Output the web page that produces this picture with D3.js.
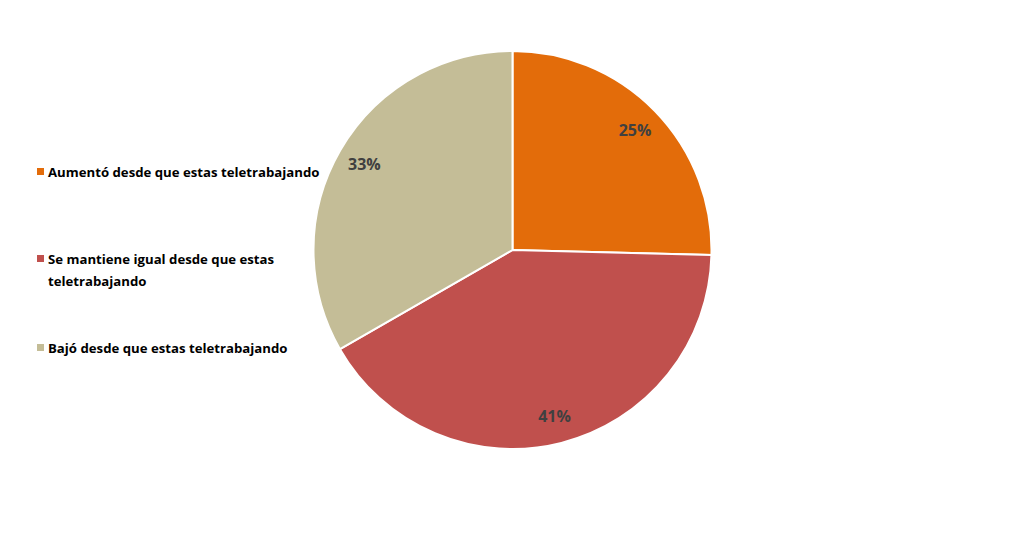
<!DOCTYPE html>
<html>
<head>
<meta charset="utf-8">
<script src="https://cdn.jsdelivr.net/npm/d3@7"></script>
<style>
  body { margin: 0; background: #fff; }
  svg text { font-family: "Open Sans", "Liberation Sans", sans-serif; font-weight: bold; }
</style>
</head>
<body>
<div id="chart"></div>
<script>
  // data
  var categories = [
    "Aumentó desde que estas teletrabajando",
    "Se mantiene igual desde que estas teletrabajando",
    "Bajó desde que estas teletrabajando"
  ];
  var values = [25.4, 41.3, 33.3];
  var pctLabels = ["25%", "41%", "33%"];
  var legendLines = [
    ["Aumentó desde que estas teletrabajando"],
    ["Se mantiene igual desde que estas", "teletrabajando"],
    ["Bajó desde que estas teletrabajando"]
  ];
  var palette = ["#e36c0a", "#c0504d", "#c4bd97"];

  var w = 1024, h = 542,
    cx = 512.5, cy = 250, radius = 199;

  var svg = d3.select("#chart").append("svg")
    .attr("width", w)
    .attr("height", h);

  var color = d3.scaleOrdinal().domain(categories).range(palette);

  var pie = d3.pie().sort(null).value(function(d) { return d.value; });
  var arcs = pie(categories.map(function(c, i) {
    return { name: c, value: values[i], label: pctLabels[i] };
  }));

  var arc = d3.arc().innerRadius(0).outerRadius(radius);
  var labelArc = d3.arc().innerRadius(radius * 0.86).outerRadius(radius * 0.86);

  var g = svg.append("g").attr("transform", "translate(" + cx + "," + cy + ")");

  g.selectAll(".slice")
    .data(arcs)
    .enter().append("path")
    .attr("class", "slice")
    .attr("d", arc)
    .attr("fill", function(d) { return color(d.data.name); })
    .style("stroke", "#fff")
    .style("stroke-width", 2);

  g.selectAll(".pct")
    .data(arcs)
    .enter().append("text")
    .attr("class", "pct")
    .attr("transform", function(d) { return "translate(" + labelArc.centroid(d) + ")"; })
    .attr("text-anchor", "middle")
    .attr("dy", "0.35em")
    .style("font-size", "16px")
    .style("fill", "#404040")
    .text(function(d) { return d.data.label; });

  // legend
  var legendY = [172, 259, 348];
  var legend = svg.selectAll(".legend")
    .data(categories)
    .enter().append("g")
    .attr("class", "legend")
    .attr("transform", function(d, i) { return "translate(37," + legendY[i] + ")"; });

  legend.append("rect")
    .attr("x", 0)
    .attr("y", -4)
    .attr("width", 7)
    .attr("height", 7)
    .attr("fill", function(d) { return color(d); });

  legend.append("text")
    .attr("x", 11)
    .attr("y", 0)
    .style("font-size", "13.2px")
    .style("fill", "#000")
    .each(function(d, i) {
      var t = d3.select(this);
      legendLines[i].forEach(function(line, j) {
        t.append("tspan").attr("x", 11).attr("dy", j === 0 ? "0.35em" : "22px").text(line);
      });
    });
</script>
</body>
</html>
